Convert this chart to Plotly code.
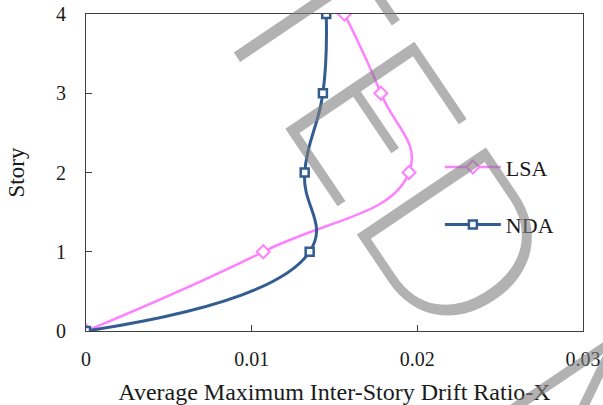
import plotly.graph_objects as go

# Story levels and average maximum inter-story drift ratios (X direction)
stories = [0, 1, 2, 3, 4]
lsa_drift = [0.0, 0.0107, 0.0195, 0.0178, 0.0156]
nda_drift = [0.0, 0.0135, 0.0132, 0.0143, 0.0145]

x_ticks = [0, 0.01, 0.02, 0.03]
x_tick_text = ["0", "0.01", "0.02", "0.03"]
y_ticks = [0, 1, 2, 3, 4]

LSA_COLOR = "#FF80FF"
NDA_COLOR = "#335D91"
SERIF = "Liberation Serif, Times New Roman, serif"
TEXT_COLOR = "#1A1A1A"

fig = go.Figure()

fig.add_trace(go.Scatter(
    x=lsa_drift, y=stories, name="LSA", mode="lines+markers",
    line=dict(color=LSA_COLOR, width=2.5, shape="spline", smoothing=1.3),
    marker=dict(symbol="diamond", size=10, color="white",
                line=dict(color=LSA_COLOR, width=2)),
    legendgroup="lsa",
))
fig.add_trace(go.Scatter(
    x=nda_drift, y=stories, name="NDA", mode="lines+markers",
    line=dict(color=NDA_COLOR, width=3, shape="spline", smoothing=1.3),
    marker=dict(symbol="square", size=8, color="white",
                line=dict(color=NDA_COLOR, width=2.5)),
    legendgroup="nda",
))

# Diagonal stamp across the figure
fig.add_annotation(
    text="ACCEPTED MANUSCRIPT", xref="paper", yref="paper",
    x=1.034, y=-0.353, xanchor="center", yanchor="middle",
    showarrow=False, textangle=56, opacity=0.6,
    font=dict(family="Lato, sans-serif", weight=300,
              size=220, color="#7F7F7F"),
)

axis_common = dict(
    showgrid=False, zeroline=False, showline=True, mirror=True,
    linecolor="#404040", linewidth=1, automargin=False,
    ticks="inside", ticklen=6, tickcolor="#404040",
    tickfont=dict(family=SERIF, size=20, color=TEXT_COLOR),
)

fig.update_xaxes(
    range=[0, 0.03], tickvals=x_ticks, ticktext=x_tick_text,
    title=dict(text="Average Maximum Inter-Story Drift Ratio-X",
               font=dict(family=SERIF, size=24, color=TEXT_COLOR), standoff=15),
    ticklabelstandoff=10, **axis_common,
)
fig.update_yaxes(
    range=[0, 4], tickvals=y_ticks,
    title=dict(text="Story", font=dict(family=SERIF, size=23, color=TEXT_COLOR),
               standoff=24),
    ticklabelstandoff=15, **axis_common,
)

fig.update_layout(
    width=603, height=405,
    margin=dict(l=86, r=20, t=14, b=74, autoexpand=False),
    paper_bgcolor="white", plot_bgcolor="white",
    showlegend=True,
    legend=dict(
        x=0.712, y=0.583, xanchor="left", yanchor="top",
        bgcolor="rgba(0,0,0,0)", itemwidth=56,
        traceorder="grouped", tracegroupgap=26,
        font=dict(family=SERIF, size=22, color=TEXT_COLOR),
    ),
)

fig.write_html("out.html")
